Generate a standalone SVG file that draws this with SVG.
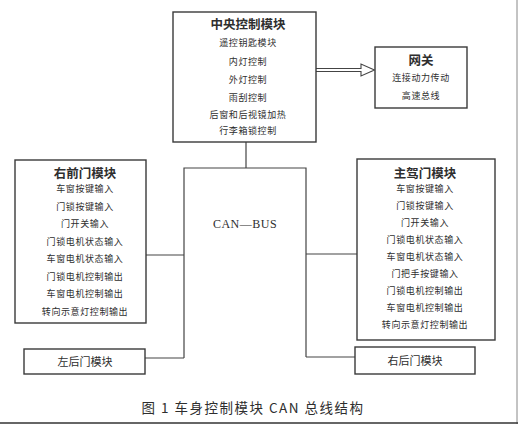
<svg xmlns="http://www.w3.org/2000/svg" width="520" height="425" viewBox="0 0 520 425">
<style>
.box{fill:#fff;stroke:#3a3a3a;stroke-width:1.4}
.ln{fill:none;stroke:#444;stroke-width:1.2}
text{font-family:"Noto Sans CJK SC","Noto Sans CJK JP",sans-serif;fill:#2e2e2e;text-anchor:middle}
.t{font-size:12.5px;font-weight:bold}
.i{font-size:9px;letter-spacing:0.6px}
.m{font-size:11px}
</style>
<rect width="520" height="425" fill="#fff"/>
<line x1="517" y1="0" x2="517" y2="424" stroke="#888" stroke-width="1"/>
<line x1="0" y1="423" x2="518" y2="423" stroke="#333" stroke-width="1.5"/>
<g id="connectors">
<path class="ln" d="M246 142V168M184 358V168H306V357M146 255H184M306 254H357M145 358H184M306 357H355"/>
<path d="M316 68.5H361V64L374.5 70L361 76V71.5H316" fill="#fff" stroke="#444" stroke-width="1.1"/>
</g>
<g id="central">
<rect class="box" x="173" y="12" width="143" height="130"/>
<text class="t" x="248" y="29">中央控制模块</text>
<text class="i" x="248" y="46">遥控钥匙模块</text>
<text class="i" x="248" y="65">内灯控制</text>
<text class="i" x="248" y="83">外灯控制</text>
<text class="i" x="248" y="101">雨刮控制</text>
<text class="i" x="248" y="118">后窗和后视镜加热</text>
<text class="i" x="248" y="134">行李箱锁控制</text>
</g>
<g id="gateway">
<rect class="box" x="375" y="47" width="92" height="61"/>
<text class="t" x="421" y="65">网关</text>
<text class="i" x="421" y="81">连接动力传动</text>
<text class="i" x="421" y="99">高速总线</text>
</g>
<g id="canbus">
<text x="245" y="228" style="font-family:'Liberation Serif',serif;font-size:12px;letter-spacing:0.5px">CAN—BUS</text>
</g>
<g id="rightfront">
<rect class="box" x="15" y="160" width="131" height="163"/>
<text class="t" x="85" y="178">右前门模块</text>
<text class="i" x="85" y="192">车窗按键输入</text>
<text class="i" x="85" y="210">门锁按键输入</text>
<text class="i" x="85" y="227">门开关输入</text>
<text class="i" x="85" y="245">门锁电机状态输入</text>
<text class="i" x="85" y="262">车窗电机状态输入</text>
<text class="i" x="85" y="280">门锁电机控制输出</text>
<text class="i" x="85" y="297">车窗电机控制输出</text>
<text class="i" x="85" y="315">转向示意灯控制输出</text>
</g>
<g id="maindriver">
<rect class="box" x="357" y="159" width="138" height="181"/>
<text class="t" x="425" y="178">主驾门模块</text>
<text class="i" x="425" y="192">车窗按键输入</text>
<text class="i" x="425" y="209">门锁按键输入</text>
<text class="i" x="425" y="226">门开关输入</text>
<text class="i" x="425" y="243">门锁电机状态输入</text>
<text class="i" x="425" y="260">车窗电机状态输入</text>
<text class="i" x="425" y="277">门把手按键输入</text>
<text class="i" x="425" y="294">门锁电机控制输出</text>
<text class="i" x="425" y="311">车窗电机控制输出</text>
<text class="i" x="425" y="328">转向示意灯控制输出</text>
</g>
<g id="leftrear">
<rect class="box" x="24" y="349" width="121" height="25"/>
<text class="m" x="85" y="366">左后门模块</text>
</g>
<g id="rightrear">
<rect class="box" x="355" y="347" width="120" height="27"/>
<text class="m" x="415" y="365">右后门模块</text>
</g>
<g id="caption">
<text x="253" y="413" style="font-size:13.5px;letter-spacing:1.5px">图 1 车身控制模块 CAN 总线结构</text>
</g>
</svg>
